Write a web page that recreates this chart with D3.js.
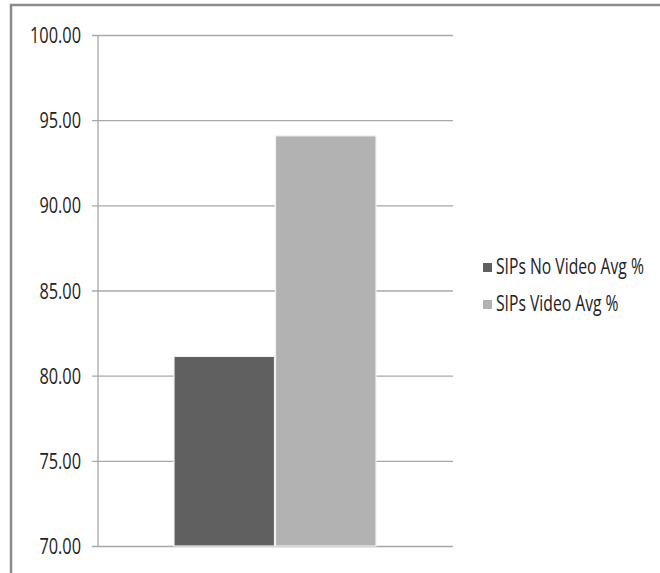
<!DOCTYPE html>
<html>
<head>
<meta charset="utf-8">
<style>
  body { margin: 0; background: #fff; }
  text { font-family: "Open Sans", "Noto Sans", sans-serif; fill: #222; }
</style>
</head>
<body>
<div id="chart"></div>
<script src="https://d3js.org/d3.v7.min.js"></script>
<script>
// series names and values
const seriesNames = ["SIPs No Video Avg %", "SIPs Video Avg %"];
const seriesValues = [81.13, 94.08];
const seriesColors = ["#606060", "#b2b2b2"];
const yTicks = [70, 75, 80, 85, 90, 95, 100];

const width = 660, height = 573;
const plot = { left: 98, right: 453, top: 35, bottom: 546 };

const svg = d3.select("#chart").append("svg")
  .attr("width", width)
  .attr("height", height);

// outer frame
svg.append("path")
  .attr("d", `M11,${height + 5} L11,5 L${width + 5},5`)
  .attr("fill", "none")
  .attr("stroke", "#8a8a8a")
  .attr("stroke-width", 2.5);

const y = d3.scaleLinear().domain([70, 100]).range([plot.bottom, plot.top]);
const x = d3.scaleBand().domain(seriesNames).range([174, 376]).paddingInner(0.01);

// gridlines + ticks
const yAxis = d3.axisLeft(y)
  .tickValues(yTicks)
  .tickFormat(d3.format(".2f"))
  .tickSize(-(plot.right - plot.left))
  .tickPadding(17);

const gy = svg.append("g")
  .attr("transform", `translate(${plot.left},0)`)
  .call(yAxis);
gy.select(".domain").remove();
gy.selectAll(".tick line")
  .attr("stroke", "#a8a8a8")
  .attr("stroke-width", 1.3)
  .attr("x1", -6);

// original uses a condensed face -> squeeze horizontally
const tickText = gy.selectAll(".tick text")
  .attr("font-size", 21)
  .attr("x", 0)
  .attr("dy", "0.36em")
  .style("fill", "#222");
let tw = 0;
tickText.each(function() { tw = Math.max(tw, this.getComputedTextLength()); });
const tsx = 51 / tw;
tickText.attr("transform", `translate(-17,0) scale(${tsx},1)`);

// axis line
svg.append("line")
  .attr("x1", plot.left).attr("x2", plot.left)
  .attr("y1", plot.top).attr("y2", plot.bottom)
  .attr("stroke", "#a8a8a8")
  .attr("stroke-width", 1.3);

// bars
svg.append("g")
  .selectAll("rect")
  .data(seriesNames)
  .join("rect")
  .attr("x", d => x(d))
  .attr("y", (d, i) => y(seriesValues[i]))
  .attr("width", x.bandwidth())
  .attr("height", (d, i) => plot.bottom - y(seriesValues[i]))
  .attr("fill", (d, i) => seriesColors[i])
  .attr("stroke", "#f2f2f2")
  .attr("stroke-width", 1.2);

// legend
const legend = svg.append("g")
  .selectAll("g")
  .data(seriesNames)
  .join("g")
  .attr("transform", (d, i) => `translate(483,${263 + i * 37})`);

legend.append("rect")
  .attr("width", 9).attr("height", 9)
  .attr("fill", (d, i) => seriesColors[i]);

const legText = legend.append("text")
  .attr("font-size", 21)
  .text(d => d);
const lw = legText.node().getComputedTextLength();
legText.attr("transform", `translate(13,11) scale(${148 / lw},1)`);
</script>
</body>
</html>
